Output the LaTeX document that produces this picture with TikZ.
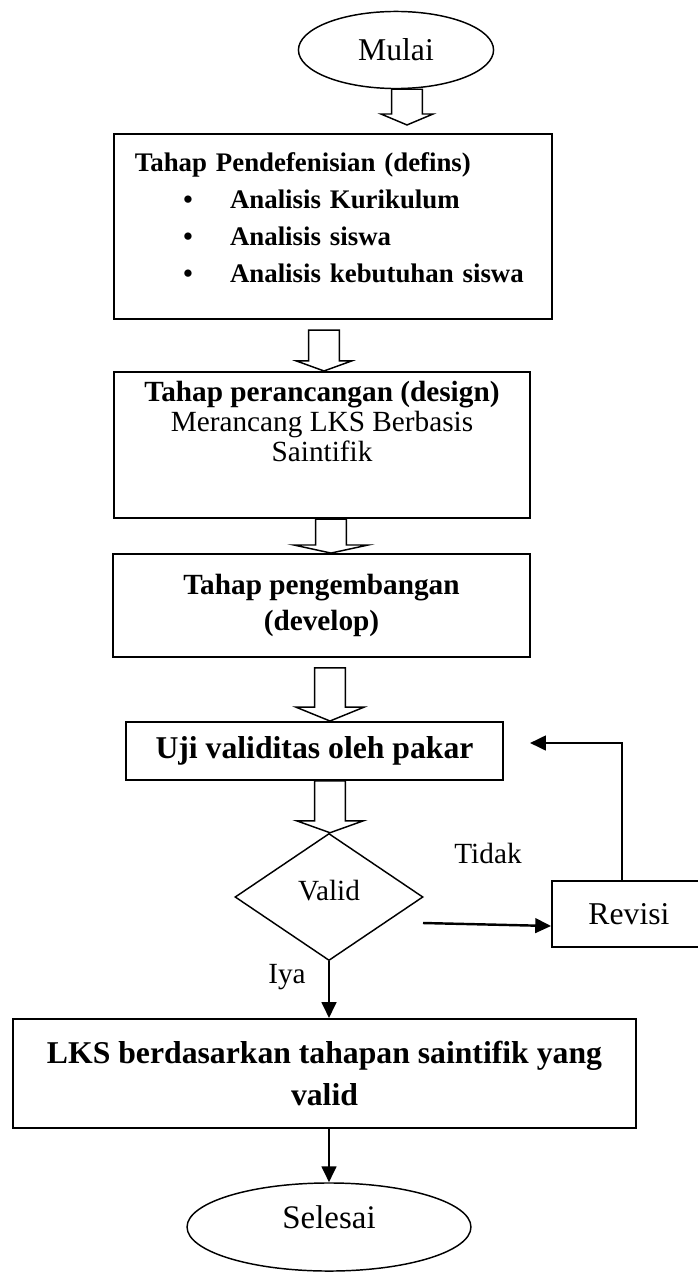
\documentclass[tikz,border=0pt]{standalone}
\usepackage{fontspec}
\setmainfont{Liberation Serif}
\usetikzlibrary{shapes.geometric,arrows.meta,calc}

\newcommand{\butir}{\makebox[39pt][l]{\hspace{19.9pt}\textbullet}}

\begin{document}
\begin{tikzpicture} [x=0.41pt,y=-0.41pt,>={Triangle[length=6.5pt,width=6pt]},
		every node/.style={inner sep=0pt},
		box/.style={draw,line width=0.8pt},
		terminal/.style={draw,ellipse,line width=0.6pt,font=\fontsize{13}{15}\selectfont},
		decision/.style={draw,diamond,line width=0.6pt,font=\fontsize{12}{14}\selectfont},
		note/.style={font=\fontsize{12}{14}\selectfont},
		line/.style={->,line width=1pt},
		fat/.style 2 args={line width=0.6pt,to path={let \p1=(\tikztostart), \p2=(\tikztotarget) in
			(\x1-6.3pt,\y1) -- (\x1-6.3pt,\y2+#2) -- (\x1-#1,\y2+#2) -- (\x1,\y2)
			-- (\x1+#1,\y2+#2) -- (\x1+6.3pt,\y2+#2) -- (\x1+6.3pt,\y1) -- cycle}}]

	\useasboundingbox (0,0) rectangle (698,1275);

	\node [terminal, minimum width=80pt, minimum height=31.6pt] (mulai) at (396,50) {Mulai};
	\node [box, minimum width=179.6pt, minimum height=75.9pt, text width=162.4pt, align=left,
		font=\fontsize{11}{15.2}\selectfont\bfseries] (defin) at (333,226.5)
		{Tahap Pendefenisian (defins)\\
		\butir Analisis Kurikulum\\
		\butir Analisis siswa\\
		\butir Analisis kebutuhan siswa\rule[-7.1pt]{0pt}{0pt}};
	\node [box, minimum width=170.6pt, minimum height=59.9pt, align=center,
		font=\fontsize{12}{12.3}\selectfont] (design) at (322,445)
		{\textbf{Tahap perancangan (design)}\\Merancang LKS Berbasis\\Saintifik\rule[-19pt]{0pt}{0pt}};
	\node [box, minimum width=171pt, minimum height=42.2pt, align=center,
		font=\fontsize{12}{14.4}\selectfont\bfseries] (develop) at (321.5,605.5)
		{Tahap pengembangan\\(develop)};
	\node [box, minimum width=154.6pt, minimum height=23.8pt,
		font=\fontsize{13}{15}\selectfont\bfseries] (uji) at (314.5,751) {Uji validitas oleh pakar};
	\node [decision, minimum width=77.1pt, minimum height=52.1pt, text depth=5.3pt] (valid) at (329,897) {Valid};
	\node [box, minimum width=63.1pt, minimum height=27.1pt,
		font=\fontsize{13}{15}\selectfont] (revisi) at (629,914) {Revisi};
	\node [box, minimum width=255.4pt, minimum height=44.7pt, align=center,
		font=\fontsize{13}{17.1}\selectfont\bfseries] (lks) at (324.5,1073.5)
		{LKS berdasarkan tahapan saintifik yang\\valid};
	\node [terminal, minimum width=116.4pt, minimum height=36.1pt, text depth=8pt,
		font=\fontsize{13.5}{15}\selectfont] (selesai) at (329,1227) {Selesai};

	\node [note] (tidak) at (488,853) {Tidak};
	\node [note] (iya) at (287,977) {Iya};

	\draw [fat={10.7pt}{4.5pt}] (407,0 |- mulai.south) to ($(407,0 |- defin.north)+(0,-8)$);
	\draw [fat={11.3pt}{4.1pt}] ($(324,0 |- defin.south)+(0,10)$) to (324,0 |- design.north);
	\draw [fat={15.2pt}{3.3pt}] (331,0 |- design.south) to (331,0 |- develop.north);
	\draw [fat={14pt}{5.7pt}] ($(330,0 |- develop.south)+(0,10)$) to (330,0 |- uji.north);
	\draw [fat={13.7pt}{4.9pt}] (330,0 |- uji.south) to (330,0 |- valid.north);

	\coordinate (no) at (423,923);
	\coordinate (back) at (530,743);
	\draw [line] (no) -- ($(revisi.west)+(0,12)$);
	\draw [line] ($(revisi.north)+(-7,0)$) |- (back);
	\draw [line] (valid.south) -- (valid.south |- lks.north);
	\draw [line] (selesai.north |- lks.south) -- (selesai.north);
\end{tikzpicture}
\end{document}
